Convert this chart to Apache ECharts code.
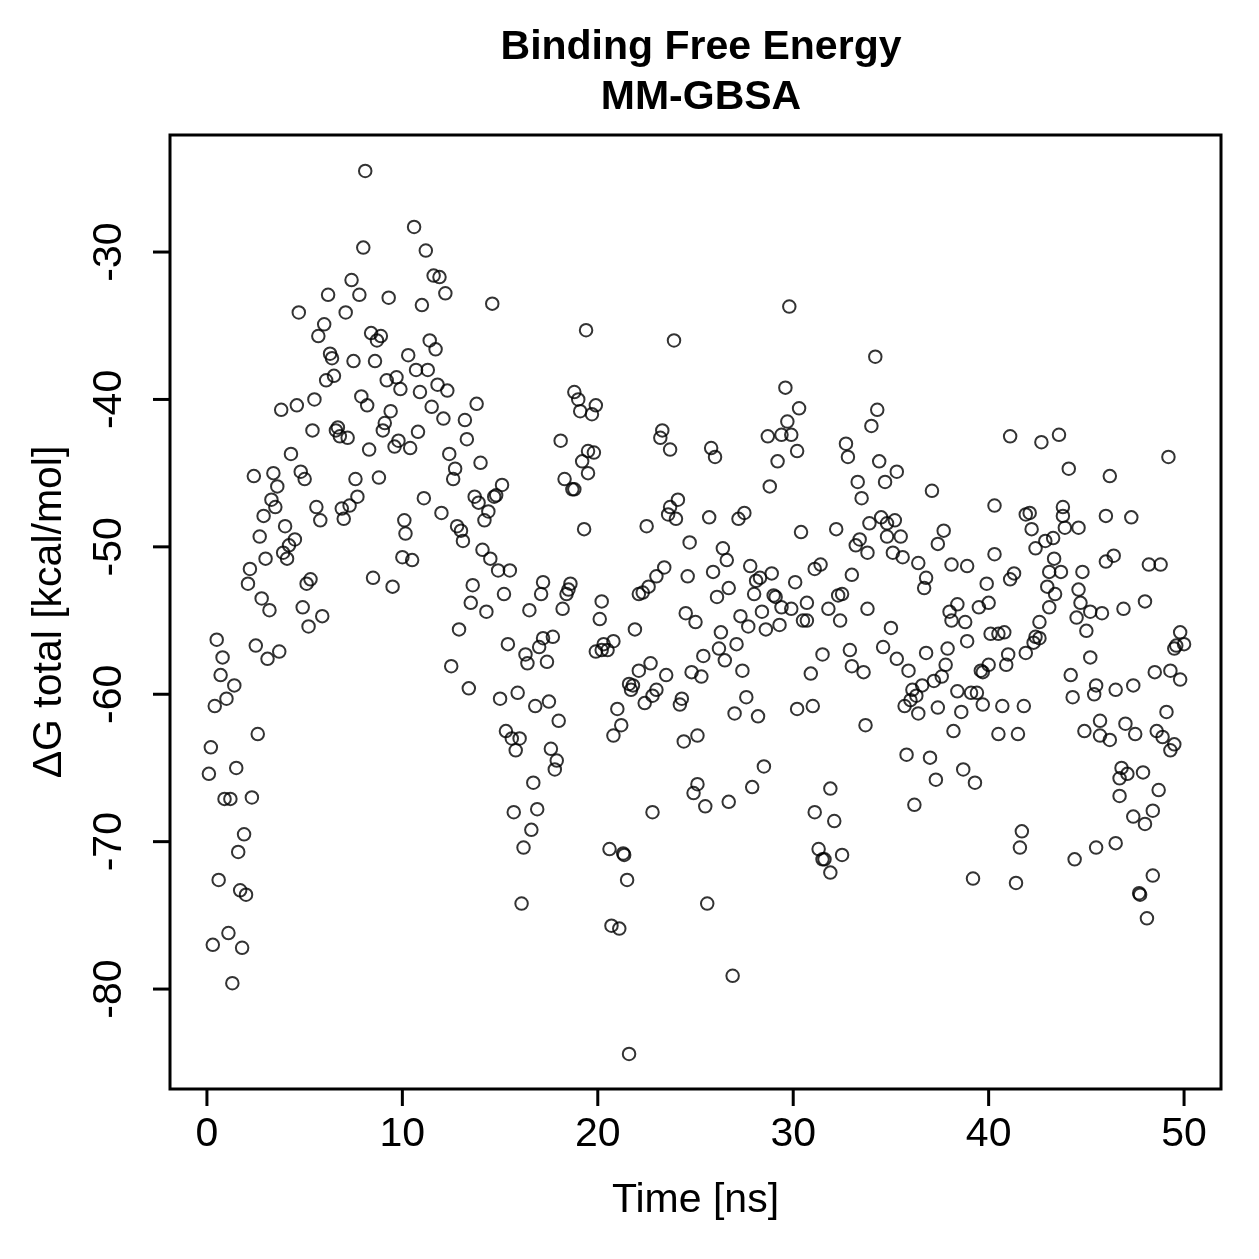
<!DOCTYPE html>
<html>
<head>
<meta charset="utf-8">
<title>Binding Free Energy MM-GBSA</title>
<script src="https://cdn.jsdelivr.net/npm/echarts@6/dist/echarts.min.js"></script>
<style>
html, body { margin: 0; padding: 0; background: #fff; }
#chart { width: 1259px; height: 1259px; }
</style>
</head>
<body>
<div id="chart"></div>
<script>
// tick positions of both axes
var timeTicks = [0, 10, 20, 30, 40, 50];
var energyTicks = [-80, -70, -60, -50, -40, -30];

// [time (ns), dG total (kcal/mol)], in 10 ns blocks
var frames0to10 = [
	[0.5,-56.3],[0.8,-57.5],[0.7,-58.7],[1.4,-59.4],[1.0,-60.3],[0.4,-60.8],[0.2,-63.6],[1.5,-65.0],
	[0.1,-65.4],[0.9,-67.1],[1.2,-67.1],[1.9,-69.5],[1.6,-70.7],[0.6,-72.6],[1.7,-73.3],[2.0,-73.6],
	[1.1,-76.2],[0.3,-77.0],[1.8,-77.2],[1.3,-79.6],
	[8.1,-24.5],[8.0,-29.7],[7.4,-31.9],[6.2,-32.9],[7.8,-32.9],[9.3,-33.1],[4.7,-34.1],[7.1,-34.1],
	[6.0,-34.9],[5.7,-35.7],[8.4,-35.5],[8.9,-35.7],[8.7,-36.0],[6.3,-36.9],[6.4,-37.2],[7.5,-37.4],
	[8.6,-37.4],[6.5,-38.4],[6.1,-38.7],[9.2,-38.7],[9.7,-38.5],[9.9,-39.3],[5.5,-40.0],[4.6,-40.4],
	[3.8,-40.7],[7.9,-39.8],[8.2,-40.4],[9.4,-40.8],[9.1,-41.6],[9.0,-42.1],[5.4,-42.1],[6.7,-41.9],
	[6.6,-42.1],[6.8,-42.5],[7.2,-42.6],[8.3,-43.4],[9.8,-42.8],[9.6,-43.2],[4.3,-43.7],[2.4,-45.2],
	[3.4,-45.0],[4.8,-44.9],[5.0,-45.4],[7.6,-45.4],[8.8,-45.3],[3.6,-45.9],[3.3,-46.8],[3.5,-47.3],
	[2.9,-47.9],[4.0,-48.6],[2.7,-49.3],[5.6,-47.3],[5.8,-48.2],[6.9,-47.4],[7.0,-48.1],[7.3,-47.2],
	[7.7,-46.6],[4.5,-49.5],[4.2,-49.9],[3.9,-50.4],[4.1,-50.8],[3.0,-50.8],[2.2,-51.5],[2.1,-52.5],
	[5.3,-52.2],[5.1,-52.5],[8.5,-52.1],[9.5,-52.7],[10.0,-50.7],[2.8,-53.5],[3.2,-54.3],[4.9,-54.1],
	[5.9,-54.7],[2.5,-56.7],[3.1,-57.6],[3.7,-57.1],[5.2,-55.4],[2.3,-67.0],[2.6,-62.7]
];

var frames10to20 = [
	[10.1,-48.2],[10.16,-49.1],[10.6,-28.3],[11.2,-29.9],[11.6,-31.6],[11.9,-31.7],[12.2,-32.8],[11.0,-33.6],
	[14.6,-33.5],[19.4,-35.3],[11.4,-36.0],[11.7,-36.6],[10.3,-37.0],[10.7,-38.0],[11.3,-38.0],[11.8,-39.0],
	[12.3,-39.4],[10.9,-39.5],[11.5,-40.5],[12.1,-41.3],[13.2,-41.4],[13.8,-40.3],[10.8,-42.2],[10.4,-43.3],
	[13.3,-42.7],[12.4,-43.7],[12.7,-44.7],[12.6,-45.4],[14.0,-44.3],[15.1,-45.8],[14.7,-46.6],[14.8,-46.5],
	[13.7,-46.6],[13.9,-47.0],[14.4,-47.6],[14.2,-48.2],[11.1,-46.7],[12.0,-47.7],[12.8,-48.6],[13.0,-48.9],
	[13.1,-49.6],[14.1,-50.2],[14.5,-50.8],[14.9,-51.6],[15.5,-51.6],[13.6,-52.6],[13.5,-53.8],[14.3,-54.4],
	[15.2,-53.2],[16.5,-54.3],[17.2,-52.4],[17.1,-53.2],[18.6,-52.5],[18.5,-52.9],[18.4,-53.2],[18.2,-54.2],
	[18.1,-42.8],[18.8,-39.5],[19.0,-40.0],[19.1,-40.8],[19.9,-40.4],[19.7,-41.0],[19.5,-43.5],[19.8,-43.6],
	[19.2,-44.2],[19.5,-45.0],[18.3,-45.4],[18.7,-46.1],[18.8,-46.1],[19.3,-48.8],[12.9,-55.6],[15.4,-56.6],
	[16.3,-57.3],[16.4,-57.9],[17.0,-56.8],[17.2,-56.2],[17.7,-56.1],[17.4,-57.8],[12.5,-58.1],[13.4,-59.6],
	[15.0,-60.3],[15.9,-59.9],[16.8,-60.8],[17.5,-60.5],[18.0,-61.8],[15.3,-62.5],[15.6,-63.0],[16.0,-63.0],
	[15.8,-63.8],[17.6,-63.7],[17.9,-64.5],[17.8,-65.1],[16.7,-66.0],[16.9,-67.8],[15.7,-68.0],[16.6,-69.2],
	[16.2,-70.4],[16.1,-74.2],[19.9,-57.1],[10.5,-50.9]
];

var frames20to30 = [
	[20.1,-54.9],[20.2,-53.7],[20.2,-57.0],[20.5,-57.0],[20.3,-56.6],[20.8,-56.4],[21.9,-55.6],[22.7,-57.9],
	[22.1,-58.4],[23.5,-58.7],[21.6,-59.3],[21.8,-59.4],[21.7,-59.7],[23.0,-59.7],[22.8,-60.1],[22.4,-60.6],
	[21.0,-61.0],[21.2,-62.1],[20.8,-62.8],[24.3,-60.3],[24.2,-60.7],[24.8,-58.5],[25.3,-58.8],[25.4,-57.4],
	[26.3,-55.8],[26.2,-56.9],[26.5,-57.7],[27.1,-56.6],[27.4,-58.4],[27.6,-60.2],[27.0,-61.3],[28.2,-61.5],
	[30.2,-61.0],[25.1,-62.8],[24.4,-63.2],[28.5,-64.9],[27.9,-66.3],[25.1,-66.1],[24.9,-66.7],[25.5,-67.6],
	[26.7,-67.3],[22.8,-68.0],[20.6,-70.5],[21.3,-70.8],[21.35,-70.9],[21.5,-72.6],[25.6,-74.2],[20.7,-75.7],
	[21.1,-75.9],[26.9,-79.1],[21.6,-84.4],[29.8,-33.7],[23.9,-36.0],[29.6,-39.2],[30.3,-40.6],[29.7,-41.5],
	[28.7,-42.5],[29.4,-42.4],[29.9,-42.4],[30.2,-43.5],[29.2,-44.2],[28.8,-45.9],[23.3,-42.1],[23.2,-42.6],
	[23.7,-43.4],[25.8,-43.3],[26.0,-43.9],[22.5,-48.6],[24.1,-46.8],[23.7,-47.3],[23.6,-47.8],[24.0,-48.1],
	[25.7,-48.0],[27.2,-48.1],[27.5,-47.7],[30.4,-49.0],[24.7,-49.7],[26.4,-50.1],[26.6,-50.9],[27.8,-51.3],
	[23.4,-51.4],[23.0,-52.0],[22.6,-52.7],[22.3,-53.1],[22.1,-53.2],[24.6,-52.0],[25.9,-51.7],[26.7,-52.8],
	[26.1,-53.4],[28.1,-52.3],[28.3,-52.1],[28.9,-51.8],[30.1,-52.4],[28.0,-53.2],[29.0,-53.3],[29.1,-53.4],
	[29.4,-54.1],[29.9,-54.2],[28.4,-54.4],[24.5,-54.5],[25.0,-55.1],[27.3,-54.7],[27.7,-55.4],[28.6,-55.6],
	[29.3,-55.3]
];

var frames30to40 = [
	[30.7,-53.8],[30.5,-55.0],[30.7,-55.0],[34.2,-37.1],[34.3,-40.7],[34.0,-41.8],[32.7,-43.0],[32.8,-43.9],
	[34.4,-44.2],[35.3,-44.9],[34.7,-45.6],[33.3,-45.6],[33.5,-46.7],[37.1,-46.2],[40.3,-47.2],[32.2,-48.8],
	[33.9,-48.4],[34.5,-48.0],[34.8,-48.4],[35.2,-48.2],[34.8,-49.3],[35.5,-49.3],[33.4,-49.5],[33.2,-49.9],
	[33.8,-50.4],[35.1,-50.4],[35.6,-50.7],[36.4,-51.1],[37.7,-48.9],[37.4,-49.8],[38.1,-51.2],[38.9,-51.3],
	[40.3,-50.5],[39.9,-52.5],[36.8,-52.1],[36.7,-52.8],[33.0,-51.9],[31.4,-51.2],[31.1,-51.5],[32.5,-53.2],
	[32.3,-53.3],[31.8,-54.2],[33.8,-54.2],[38.4,-53.9],[38.0,-54.4],[39.5,-54.1],[40.0,-53.8],[32.4,-55.0],
	[35.0,-55.5],[31.5,-57.3],[32.9,-57.0],[33.0,-58.1],[33.6,-58.5],[30.9,-58.6],[31.0,-60.8],[34.6,-56.8],
	[35.3,-57.6],[35.9,-58.4],[36.8,-57.2],[37.9,-56.9],[38.1,-55.0],[38.8,-55.1],[38.9,-56.4],[40.1,-55.9],
	[40.5,-55.9],[40.8,-55.8],[37.8,-58.0],[37.6,-58.8],[37.2,-59.1],[36.6,-59.4],[36.1,-59.7],[36.3,-60.1],
	[36.0,-60.4],[35.7,-60.8],[36.4,-61.3],[37.4,-60.9],[38.4,-59.8],[38.6,-61.2],[38.2,-62.5],[39.1,-59.9],
	[39.4,-59.9],[39.7,-60.7],[39.6,-58.4],[39.7,-58.5],[40.0,-58.0],[40.7,-60.8],[40.5,-62.7],[33.7,-62.1],
	[35.8,-64.1],[37.0,-64.3],[37.3,-65.8],[38.7,-65.1],[39.3,-66.0],[36.2,-67.5],[31.9,-66.4],[31.1,-68.0],
	[32.1,-68.6],[31.3,-70.5],[31.5,-71.2],[31.6,-71.2],[32.5,-70.9],[31.9,-72.1],[39.2,-72.5]
];

var frames40to50 = [
	[41.1,-42.5],[42.7,-42.9],[43.6,-42.4],[49.2,-43.9],[44.1,-44.7],[46.2,-45.2],[41.9,-47.8],[42.1,-47.7],
	[43.8,-47.3],[43.8,-47.9],[46.0,-47.9],[47.3,-48.0],[42.2,-48.8],[43.9,-48.7],[44.6,-48.7],[43.3,-49.4],
	[42.9,-49.6],[42.4,-50.1],[43.35,-50.8],[46.4,-50.6],[46.0,-51.0],[43.1,-51.7],[43.7,-51.7],[44.8,-51.7],
	[48.2,-51.2],[48.8,-51.2],[41.3,-51.8],[41.1,-52.2],[43.0,-52.7],[43.4,-53.2],[44.6,-52.9],[43.1,-54.1],
	[44.7,-53.8],[45.2,-54.4],[45.8,-54.5],[46.9,-54.2],[48.0,-53.7],[44.5,-54.8],[42.6,-55.1],[45.0,-55.7],
	[45.2,-57.5],[42.4,-56.1],[42.6,-56.2],[42.3,-56.5],[41.9,-57.2],[41.0,-57.3],[40.9,-58.0],[49.8,-55.8],
	[50.0,-56.6],[49.6,-56.7],[49.5,-56.9],[48.5,-58.5],[49.3,-58.4],[49.8,-59.0],[44.2,-58.7],[44.3,-60.2],
	[45.5,-59.4],[45.4,-60.0],[46.5,-59.7],[47.4,-59.4],[49.1,-61.2],[41.8,-60.8],[41.5,-62.7],[45.7,-61.8],
	[44.9,-62.5],[45.7,-62.8],[46.2,-63.1],[47.0,-62.0],[47.5,-62.7],[48.6,-62.5],[48.9,-62.9],[49.5,-63.4],
	[49.3,-63.8],[46.8,-65.0],[47.1,-65.4],[46.7,-65.7],[47.9,-65.3],[48.7,-66.5],[46.7,-66.9],[48.4,-67.9],
	[47.4,-68.3],[48.0,-68.8],[41.7,-69.3],[41.6,-70.4],[46.5,-70.1],[45.5,-70.4],[44.4,-71.2],[41.4,-72.8],
	[48.4,-72.3],[47.7,-73.5],[47.75,-73.6],[48.1,-75.2]
];

var fontFamily = '"Liberation Sans", Arial, Helvetica, sans-serif';
var xMin = -1.89, xMax = 51.89;
var yMin = -86.78, yMax = -22.06;
var tickLen = 17;

var myChart = echarts.init(document.getElementById('chart'));

var option = {
	backgroundColor: '#ffffff',
	animation: false,
	title: {
		text: 'Binding Free Energy\nMM-GBSA',
		left: 696,
		top: 18,
		textAlign: 'center',
		textStyle: {
			fontFamily: fontFamily,
			fontSize: 41,
			fontWeight: 'bold',
			lineHeight: 50,
			color: '#000'
		}
	},
	grid: {
		left: 170,
		top: 135,
		width: 1051,
		height: 954,
		show: true,
		borderColor: '#000',
		borderWidth: 3
	},
	xAxis: {
		type: 'value',
		min: xMin,
		max: xMax,
		name: 'Time [ns]',
		nameLocation: 'middle',
		nameGap: 91,
		nameTextStyle: {
			fontFamily: fontFamily,
			fontSize: 41,
			color: '#000'
		},
		splitLine: { show: false },
		axisLine: { show: false, onZero: false },
		axisTick: { show: false },
		axisLabel: {
			customValues: timeTicks,
			margin: 25,
			fontFamily: fontFamily,
			fontSize: 41,
			color: '#000'
		}
	},
	yAxis: {
		type: 'value',
		min: yMin,
		max: yMax,
		name: '\u0394G total [kcal/mol]',
		nameLocation: 'middle',
		nameGap: 100,
		nameTextStyle: {
			fontFamily: fontFamily,
			fontSize: 41,
			color: '#000'
		},
		splitLine: { show: false },
		axisLine: { show: false, onZero: false },
		axisTick: { show: false },
		axisLabel: {
			customValues: energyTicks,
			rotate: 90,
			margin: 40,
			fontFamily: fontFamily,
			fontSize: 41,
			color: '#000'
		}
	},
	series: [{
		type: 'scatter',
		symbol: 'circle',
		symbolSize: 12.5,
		silent: true,
		itemStyle: {
			color: 'rgba(0,0,0,0)',
			borderColor: '#000',
			borderWidth: 2
		},
		data: [].concat(frames0to10, frames10to20, frames20to30, frames30to40, frames40to50)
	}]
};

myChart.setOption(option);

// outward tick marks as filled bars on their own layer, placed through the axis scales
var ticks = [];
timeTicks.forEach(function(v) {
	var p = myChart.convertToPixel({ gridIndex: 0 }, [v, yMin]);
	ticks.push({
		type: 'rect', zlevel: 2, z: 100, silent: true,
		shape: { x: p[0] - 1.5, y: p[1], width: 3, height: tickLen },
		style: { fill: '#000' }
	});
});
energyTicks.forEach(function(v) {
	var p = myChart.convertToPixel({ gridIndex: 0 }, [xMin, v]);
	ticks.push({
		type: 'rect', zlevel: 2, z: 100, silent: true,
		shape: { x: p[0] - tickLen, y: p[1] - 1.5, width: tickLen, height: 3 },
		style: { fill: '#000' }
	});
});
myChart.setOption({ graphic: { elements: ticks } });
</script>
</body>
</html>
